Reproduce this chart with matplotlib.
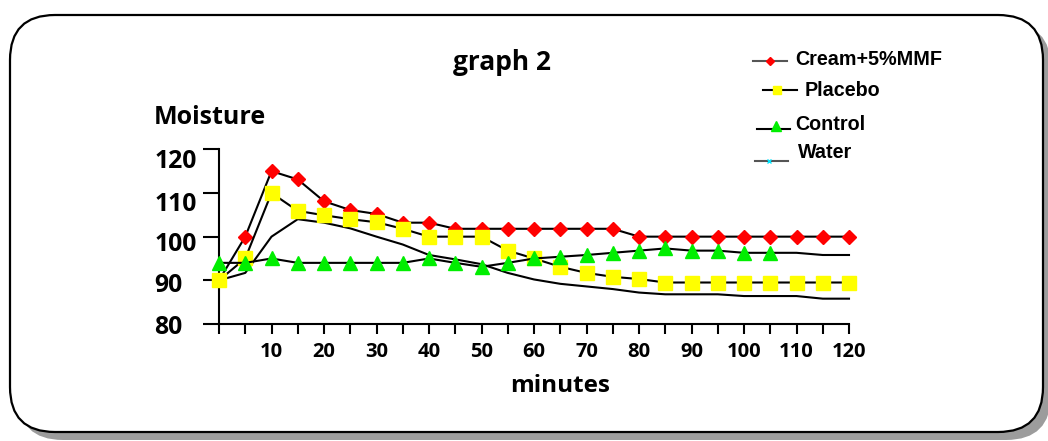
import matplotlib
matplotlib.use('Agg')
import matplotlib.pyplot as plt
from matplotlib.patches import FancyBboxPatch
from matplotlib.lines import Line2D
from matplotlib.transforms import IdentityTransform, ScaledTranslation

# ---------------- data ----------------
minutes = [0, 5, 10, 15, 20, 25, 30, 35, 40, 45, 50, 55, 60,
           65, 70, 75, 80, 85, 90, 95, 100, 105, 110, 115, 120]
x_tick_labels = ['', '', '10', '', '20', '', '30', '', '40', '', '50', '', '60',
                 '', '70', '', '80', '', '90', '', '100', '', '110', '', '120']
y_ticks = [80, 90, 100, 110, 120]
y_tick_labels = ['80', '90', '100', '110', '120']

cream = [90, 100, 115, 113.1, 108.1, 106.1, 105.2, 103.2, 103.2, 101.8, 101.8, 101.8, 101.8,
         101.8, 101.8, 101.8, 100, 100, 100, 100, 100, 100, 100, 100, 100]
placebo = [90, 95, 110, 105.9, 104.9, 104, 103.3, 101.8, 100, 100, 100, 96.8, 95,
           93.1, 91.7, 90.8, 90.3, 89.5, 89.5, 89.5, 89.5, 89.5, 89.5, 89.5, 89.5]
control = [94, 94, 95, 94, 94, 94, 94, 94, 95, 94, 93.1, 94, 95,
           95.4, 95.8, 96.3, 96.8, 97.3, 96.8, 96.8, 96.3, 96.3, 96.3, 95.8, 95.8]
water = [90, 91.7, 100, 104, 103.2, 101.9, 100, 98.2, 95.8, 94.8, 93.7, 91.7, 90.2,
         89.2, 88.6, 88.0, 87.2, 86.8, 86.8, 86.8, 86.4, 86.4, 86.4, 85.8, 85.8]
series_names = ['Cream+5%MMF', 'Placebo', 'Control', 'Water']

# ---------------- figure ----------------
plt.rcParams['font.family'] = ['Open Sans', 'DejaVu Sans']
plt.rcParams['font.weight'] = 'bold'

W, H = 1048, 441
fig = plt.figure(figsize=(W / 100, H / 100), dpi=100)
fig.patch.set_facecolor('white')

def fx(x):
    return x / W

def fy(y):
    return 1 - y / H

# frame with shadow (pixel coordinates)
shadow = FancyBboxPatch((18, 1), 1033, 417, boxstyle="round,pad=0,rounding_size=45",
                        transform=IdentityTransform(), fc='#9c9c9c', ec='none', zorder=0)
frame = FancyBboxPatch((10, 9), 1033, 417, boxstyle="round,pad=0,rounding_size=45",
                       transform=IdentityTransform(), fc='white', ec='black', lw=1.6, zorder=0.5)
fig.add_artist(shadow)
fig.add_artist(frame)

ax = fig.add_axes([fx(219), 117 / H, 630 / W, 174.7 / H])
ax.set_facecolor('none')
ax.set_zorder(2)

lw = 1.5
ax.plot(minutes, cream, color='black', lw=lw, marker='D', ms=6.8, mfc='#ff0000', mec='#ff0000',
        clip_on=False, zorder=3)
ax.plot(minutes, placebo, color='black', lw=lw, marker='s', ms=10, mfc='#ffff00', mec='#ffff00',
        clip_on=False, zorder=4)
ax.plot(minutes, control, color='black', lw=lw, marker='^', ms=9.6, mfc='#00ee00', mec='#00ee00',
        markevery=list(range(0, 22)), clip_on=False, zorder=5)
ax.plot(minutes, water, color='black', lw=lw, clip_on=False, zorder=2.5)

ax.set_xlim(0, 120)
ax.set_ylim(80, 120)
ax.set_xticks(minutes)
ax.set_xticklabels(x_tick_labels)
ax.set_yticks(y_ticks)
ax.set_yticklabels(y_tick_labels)

for s in ['top', 'right']:
    ax.spines[s].set_visible(False)
for s in ['left', 'bottom']:
    ax.spines[s].set_linewidth(1.5)
    ax.spines[s].set_color('black')

ax.tick_params(axis='x', direction='out', length=7.2, width=1.5, pad=5.5,
               labelsize=14.5, colors='black')
ax.tick_params(axis='y', direction='out', length=11.5, width=1.5, pad=35,
               labelsize=17.8, colors='black')

y_offsets_px = [0, -1.8, -4.8, -8.3, -9.7]
for lab, off in zip(ax.get_yticklabels(), y_offsets_px):
    lab.set_horizontalalignment('left')
    lab.set_fontweight('bold')
    lab.set_transform(lab.get_transform() + ScaledTranslation(0, off / 100, fig.dpi_scale_trans))
for lab in ax.get_xticklabels():
    lab.set_fontweight('bold')

# texts
fig.text(fx(502), fy(62), 'graph 2', ha='center', va='center', fontsize=19, fontweight='bold')
fig.text(fx(154), fy(118), 'Moisture', ha='left', va='center', fontsize=18, fontweight='bold')
fig.text(fx(560), fy(386), 'minutes', ha='center', va='center', fontsize=17.5, fontweight='bold')

# legend (manual placement)
leg_font = ['Liberation Sans', 'DejaVu Sans']
legend_specs = [
    # line x0, x1, line y, marker x, marker y, marker, ms, color, line color, text x, text y
    (753, 787, 61, 770, 61, 'D', 3.6, '#ff0000', '#555555', 795, 59.5),
    (763, 797, 90, 777, 90, 's', 5.8, '#ffff00', 'black', 805, 90),
    (757, 790, 129, 776, 126, '^', 6.5, '#00ee00', 'black', 795, 125),
    (755, 788, 160.5, 769, 160.5, 'x', 2.8, '#00e5ff', '#555555', 798, 153),
]
for name, (x0, x1, ly, mx, my, mk, ms, mc, lc, tx, ty) in zip(series_names, legend_specs):
    fig.add_artist(Line2D([fx(x0), fx(x1)], [fy(ly), fy(ly)], transform=fig.transFigure,
                          color=lc, lw=1.5, zorder=3))
    fig.add_artist(Line2D([fx(mx)], [fy(my)], transform=fig.transFigure, marker=mk, ms=ms,
                          mfc=mc, mec=mc, mew=1.0, lw=0, zorder=4))
    fig.text(fx(tx), fy(ty), name, ha='left', va='center', fontsize=14.2,
             fontweight='bold', family=leg_font)

fig.savefig('out.png', dpi=100)
